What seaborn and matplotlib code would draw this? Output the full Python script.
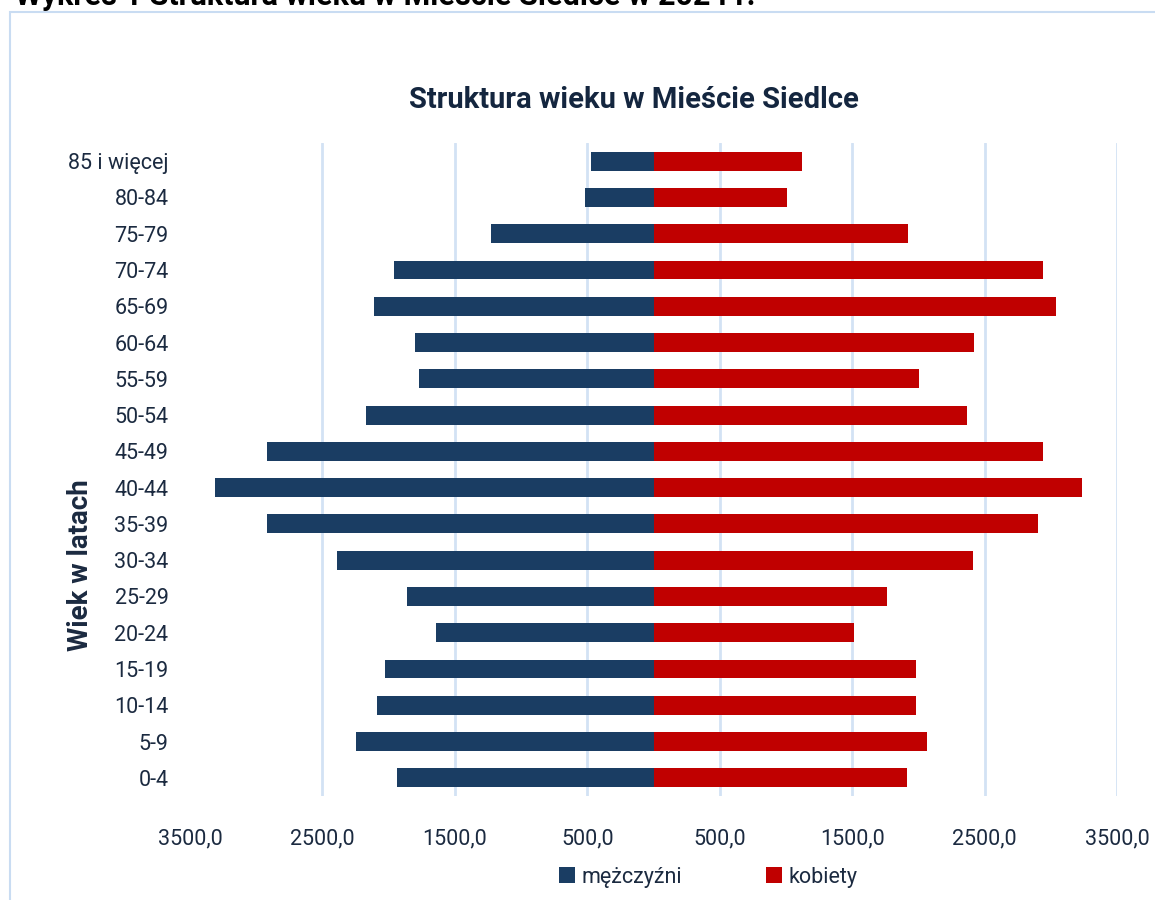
import matplotlib
matplotlib.use("Agg")
import matplotlib.pyplot as plt
from matplotlib.patches import Rectangle
from matplotlib.ticker import FuncFormatter
import seaborn as sns
import pandas as pd

# age groups, bottom to top as in the source table
ages = ["0-4", "5-9", "10-14", "15-19", "20-24", "25-29", "30-34", "35-39",
        "40-44", "45-49", "50-54", "55-59", "60-64", "65-69", "70-74",
        "75-79", "80-84", "85 i więcej"]
men = [1937, 2247, 2088, 2027, 1641, 1861, 2391, 2922,
       3309, 2915, 2171, 1770, 1800, 2111, 1959, 1225, 520, 472]
women = [1917, 2068, 1984, 1984, 1515, 1765, 2409, 2903,
         3237, 2941, 2371, 2008, 2417, 3037, 2939, 1924, 1007, 1122]
xticks = [-3500, -2500, -1500, -500, 500, 1500, 2500, 3500]

navy = "#1a3d63"
red = "#c00000"
txt = "#1b2a40"
grid_c = "#d3e2f4"

sns.set_theme(style="white")
plt.rcParams['font.family'] = ['Roboto', 'DejaVu Sans']

df = pd.concat([
    pd.DataFrame({"wiek": ages, "liczba": [-m for m in men], "plec": "mężczyźni"}),
    pd.DataFrame({"wiek": ages, "liczba": women, "plec": "kobiety"}),
])

fig = plt.figure(figsize=(11.55, 9), dpi=100)
ax = fig.add_axes([190 / 1155, 1 - 796 / 900, 927 / 1155, 653 / 900])

sns.barplot(data=df, x="liczba", y="wiek", hue="plec", order=ages[::-1],
            hue_order=["mężczyźni", "kobiety"], palette=[navy, red],
            dodge=False, width=0.52, saturation=1, errorbar=None,
            linewidth=0, ax=ax)

ax.set_xlim(-3500, 3500)
ax.set_xticks(xticks)
ax.xaxis.set_major_formatter(FuncFormatter(lambda v, p: f"{abs(v):.1f}".replace(".", ",")))
ax.xaxis.grid(True, color=grid_c, linewidth=2)
ax.get_xgridlines()[0].set_visible(False)
ax.set_axisbelow(True)
for s in ax.spines.values():
    s.set_visible(False)
ax.tick_params(axis="both", length=0, labelsize=15.5, labelcolor=txt)
ax.tick_params(axis="y", pad=15.5)
ax.tick_params(axis="x", pad=23)
ax.set_xlabel("")
ax.set_ylabel("Wiek w latach", fontsize=20, fontweight="bold", color=txt)
ax.yaxis.set_label_coords(-0.104, 0.354)

handles, labels = ax.get_legend_handles_labels()
ax.get_legend().remove()
fig.legend(handles, labels, loc="center", bbox_to_anchor=(708 / 1155, 1 - 877 / 900),
           ncol=2, frameon=False, fontsize=15.5, labelcolor=txt,
           handlelength=0.75, handleheight=0.75, handletextpad=0.3, columnspacing=3.9)

fig.text(634 / 1155, 1 - 100 / 900, "Struktura wieku w Mieście Siedlce",
         ha="center", va="center", fontsize=21, fontweight="bold", color="#14263f")

# heading of the report page, cut off at the top
fig.text(15 / 1155, 1 - 5 / 900, "Wykres 1 Struktura wieku w Mieście Siedlce w 2024 r.",
         ha="left", va="baseline", fontsize=22, fontweight="bold", color="black")

fig.patches.append(Rectangle((10 / 1155, -0.1), 1.2, 1.1 - 12 / 900, transform=fig.transFigure,
                             fill=False, edgecolor="#c9dcf2", linewidth=1.5))

fig.savefig("out.png", dpi=100)
